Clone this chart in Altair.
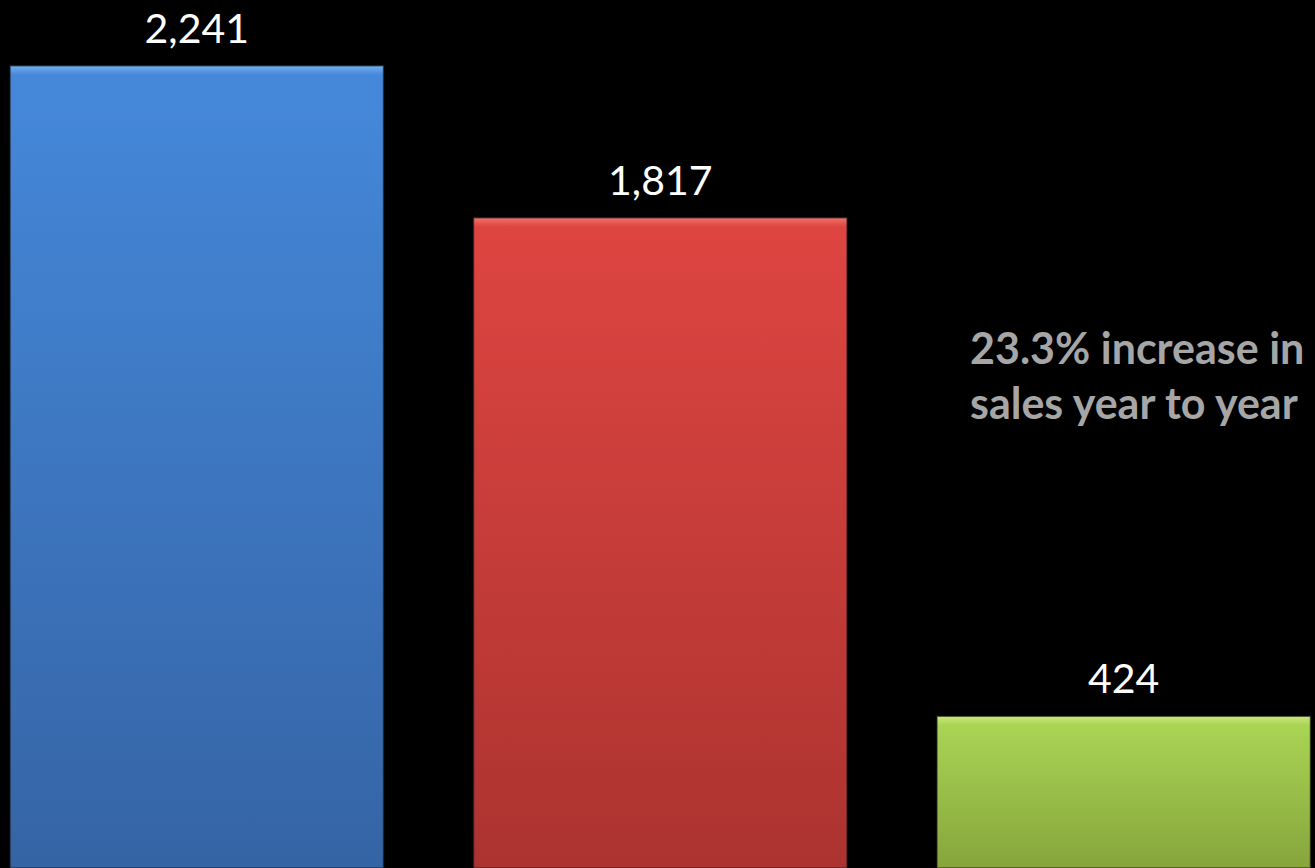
import altair as alt
import pandas as pd

categories = ["Year 2", "Year 1", "Increase"]
values = [2241, 1817, 424]
note_lines = ["23.3% increase in", "sales year to year"]

# per-bar colours: (highlight, top, bottom)
palettes = [
    ("#73b0f2", "#4588da", "#3564a5"),
    ("#f2746c", "#de4541", "#ac3330"),
    ("#cbe97a", "#a9d454", "#86a53c"),
]

W, H = 1315, 868
YMAX = 2425

df = pd.DataFrame({"cat": categories, "value": values})

xscale = alt.Scale(domain=categories, paddingInner=0.194, paddingOuter=0.0157, align=0.69)
yscale = alt.Scale(domain=[0, YMAX], nice=False, zero=True)

layers = []
for cat, val, (hi, top, bot) in zip(categories, values, palettes):
    hpx = val / YMAX * H
    o = min(9.0 / hpx, 0.2)
    grad = alt.Gradient(
        gradient="linear",
        stops=[
            alt.GradientStop(offset=0, color=hi),
            alt.GradientStop(offset=o, color=top),
            alt.GradientStop(offset=1, color=bot),
        ],
        x1=0, x2=0, y1=0, y2=1,
    )
    layers.append(
        alt.Chart(df)
        .transform_filter(alt.datum.cat == cat)
        .mark_bar(color=grad, stroke="#1a1a1a", strokeWidth=1.5, strokeOpacity=0.6)
        .encode(
            x=alt.X("cat:N", scale=xscale, axis=None, sort=categories),
            y=alt.Y("value:Q", scale=yscale, axis=None),
        )
    )

labels = (
    alt.Chart(df)
    .mark_text(color="white", font="Lato", fontSize=41, baseline="alphabetic", dy=-23)
    .encode(
        x=alt.X("cat:N", scale=xscale, axis=None, sort=categories),
        y=alt.Y("value:Q", scale=yscale, axis=None),
        text=alt.Text("value:Q", format=","),
    )
)

note = (
    alt.Chart(pd.DataFrame({"t": [note_lines]}))
    .mark_text(color="#a6a6a6", font="Lato", fontSize=43, fontWeight="bold",
               align="left", baseline="alphabetic", lineHeight=55)
    .encode(x=alt.value(970), y=alt.value(364), text="t")
)

chart = (
    alt.layer(*layers, labels, note)
    .properties(width=W, height=H, background="black", padding=0,
                autosize=alt.AutoSizeParams(type="none"))
    .configure_view(stroke=None)
)

chart.save("out.html", embed_options={"renderer": "svg", "actions": False})
